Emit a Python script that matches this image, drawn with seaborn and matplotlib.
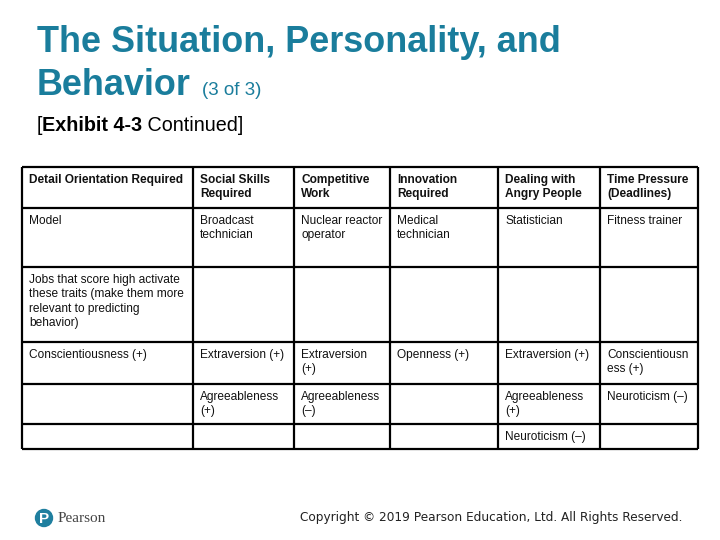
import matplotlib
matplotlib.use("Agg")
import matplotlib.pyplot as plt
from matplotlib.patches import Circle
import seaborn as sns

sns.set_theme(style="white")
plt.rcParams['font.family'] = ['Liberation Sans', 'DejaVu Sans']

# slide text
title_line1 = "The Situation, Personality, and"
title_line2 = "Behavior"
title_part = "(3 of 3)"
subtitle_bold = "Exhibit 4-3"
subtitle_rest = " Continued]"
copyright_text = "Copyright \u00a9 2019 Pearson Education, Ltd. All Rights Reserved."

# table content, one list per row
header = ["Detail Orientation Required", "Social Skills\nRequired", "Competitive\nWork",
          "Innovation\nRequired", "Dealing with\nAngry People", "Time Pressure\n(Deadlines)"]
jobs = ["Model", "Broadcast\ntechnician", "Nuclear reactor\noperator",
        "Medical\ntechnician", "Statistician", "Fitness trainer"]
note = ["Jobs that score high activate\nthese traits (make them more\nrelevant to predicting\nbehavior)",
        "", "", "", "", ""]
traits_1 = ["Conscientiousness (+)", "Extraversion (+)", "Extraversion\n(+)",
            "Openness (+)", "Extraversion (+)", "Conscientiousn\ness (+)"]
traits_2 = ["", "Agreeableness\n(+)", "Agreeableness\n(\u2013)", "", "Agreeableness\n(+)",
            "Neuroticism (\u2013)"]
traits_3 = ["", "", "", "", "Neuroticism (\u2013)", ""]
rows = [header, jobs, note, traits_1, traits_2, traits_3]

# layout of the table in pixels
col_edges = [22, 193, 294, 390, 498, 600, 698]
row_edges = [167, 208, 267, 342, 384, 424, 449]

teal = "#1a7d9c"

fig = plt.figure(figsize=(7.2, 5.4), dpi=100)
ax = fig.add_axes([0, 0, 1, 1])
ax.set_xlim(0, 720)
ax.set_ylim(540, 0)
ax.axis("off")

# title
ax.text(37, 52, title_line1, fontsize=25.9, fontweight="bold", color=teal, va="baseline")
ax.text(37, 95, title_line2, fontsize=25.9, fontweight="bold", color=teal, va="baseline")
ax.text(202, 95, title_part, fontsize=13.5, color=teal, va="baseline")

# subtitle pieces placed one after another
renderer = fig.canvas.get_renderer()
x = 37
for txt, w in [("[", "normal"), (subtitle_bold, "bold"), (subtitle_rest, "normal")]:
    t = ax.text(x, 131, txt, fontsize=14.2, fontweight=w, color="black", va="baseline")
    bb = t.get_window_extent(renderer)
    x = x + bb.width

# grid
ax.hlines(row_edges, col_edges[0], col_edges[-1], color="black", lw=1.6)
ax.vlines(col_edges, row_edges[0], row_edges[-1], color="black", lw=1.6)

# cell texts
for i, row in enumerate(rows):
    for j, cell in enumerate(row):
        if not cell:
            continue
        for k, line in enumerate(cell.split("\n")):
            ax.text(col_edges[j] + 7, row_edges[i] + 16 + k * 14.3, line,
                    fontsize=8.6, fontweight="bold" if i == 0 else "normal",
                    color="#111111", va="baseline", ha="left")

# footer
ax.add_patch(Circle((44, 518), 8.5, color="#1f7f9f"))
ax.text(44, 519, "P", fontsize=11, fontweight="bold", color="white", ha="center", va="center")
ax.text(58, 519, "Pearson", fontsize=11, color="#444444", va="center", family="Liberation Serif")
ax.text(300, 518, copyright_text, fontsize=8.7, color="#222222", va="center", family="DejaVu Sans")

fig.savefig("out.png", dpi=100)
